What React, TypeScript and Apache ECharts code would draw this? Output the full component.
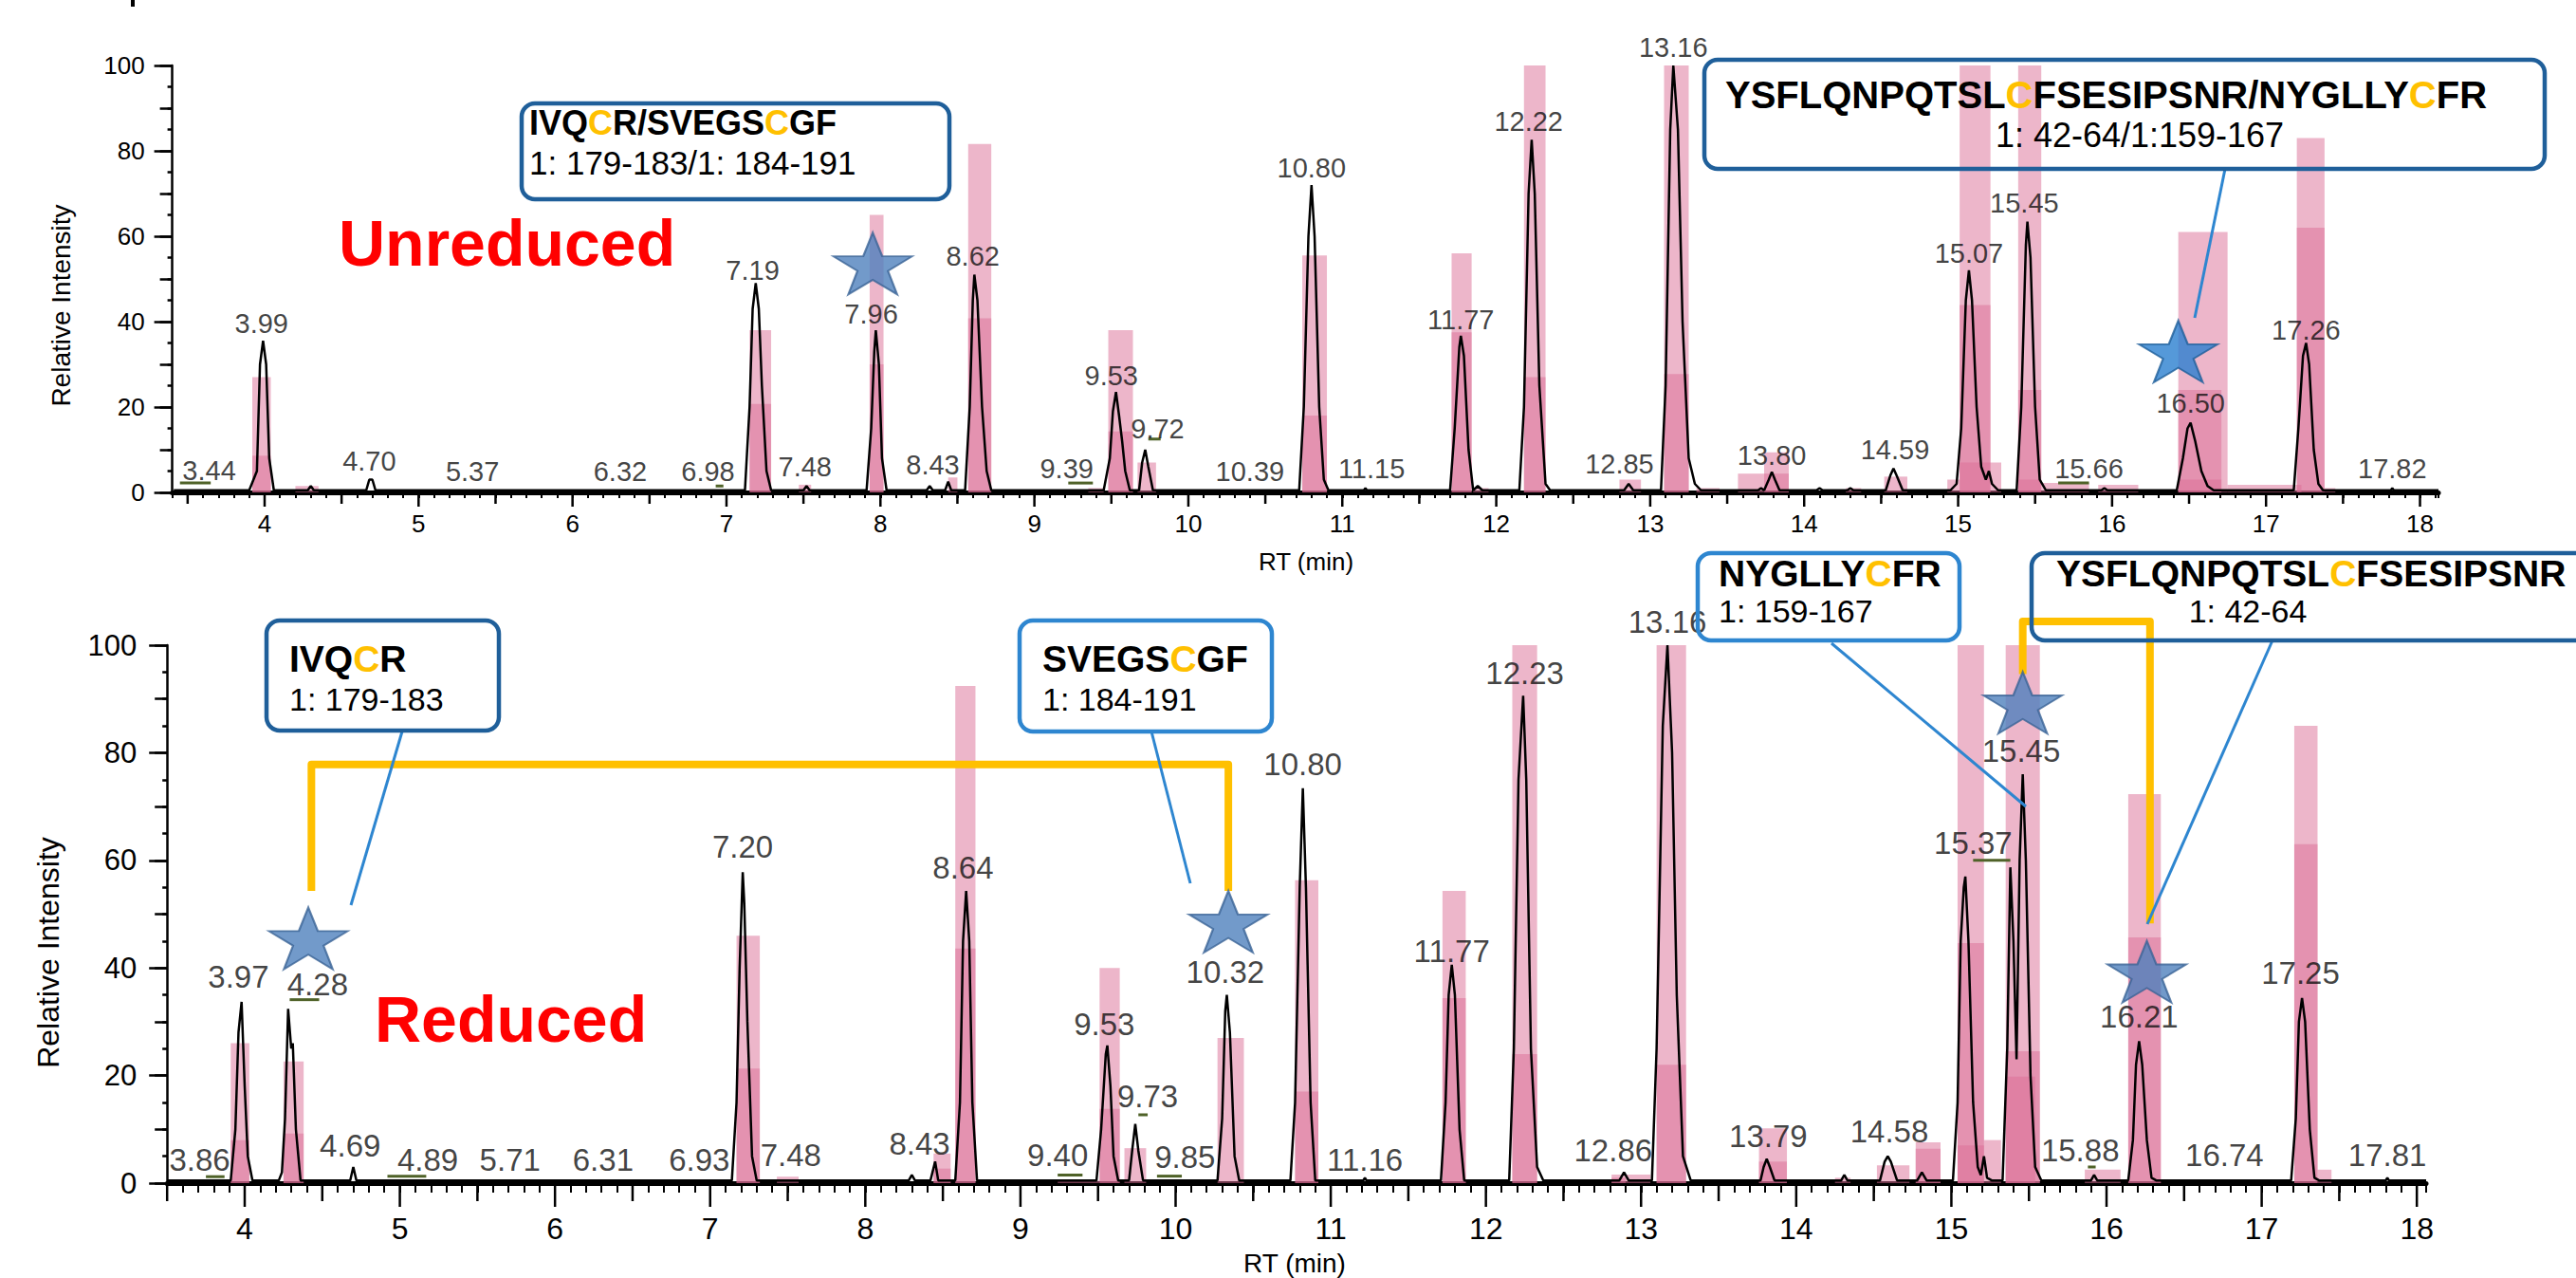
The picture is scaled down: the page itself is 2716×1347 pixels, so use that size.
import React, { useEffect, useRef } from 'react';
import * as echarts from 'echarts';

const W = 2716;
const H = 1347;
const SANS = "'Liberation Sans', Arial, Helvetica, sans-serif";
const PINK = 'rgba(220,110,150,0.5)';
const GREEN = '#4f6228';
const ORANGE = '#ffc000';
const DARKBLUE = '#1f5f9a';
const LIGHTBLUE = '#2e86d0';

// ---------- axis ticks ----------
const intTicks = [4, 5, 6, 7, 8, 9, 10, 11, 12, 13, 14, 15, 16, 17, 18];
const halfTicks = [3.5, 4.5, 5.5, 6.5, 7.5, 8.5, 9.5, 10.5, 11.5, 12.5, 13.5, 14.5, 15.5, 16.5, 17.5];

// ---------- Unreduced (top) ----------
const topTrace = [
  [3.41, 0.5], [3.90, 0.5], [3.95, 5], [3.97, 30], [3.99, 35.5], [4.01, 30], [4.03, 8], [4.06, 0.5],
  [4.28, 0.5], [4.30, 1.5], [4.32, 0.5],
  [4.66, 0.5], [4.68, 3], [4.70, 3], [4.72, 0.5],
  [7.12, 0.5], [7.15, 20], [7.17, 43], [7.19, 49], [7.21, 43], [7.23, 25], [7.26, 5], [7.29, 0.5],
  [7.50, 0.5], [7.52, 1.5], [7.54, 0.5],
  [7.91, 0.5], [7.94, 15], [7.96, 33], [7.97, 38], [7.99, 30], [8.01, 8], [8.04, 0.5],
  [8.30, 0.5], [8.32, 1.5], [8.34, 0.5],
  [8.42, 0.5], [8.44, 2.5], [8.46, 0.5],
  [8.55, 0.5], [8.58, 20], [8.60, 45], [8.61, 51], [8.63, 45], [8.66, 20], [8.69, 5], [8.72, 0.5],
  [9.45, 0.5], [9.49, 8], [9.51, 19], [9.53, 23.5], [9.55, 18], [9.57, 12], [9.59, 5], [9.62, 0.5],
  [9.68, 0.5], [9.70, 7], [9.72, 10], [9.74, 6], [9.77, 0.5],
  [10.72, 0.5], [10.75, 20], [10.78, 60], [10.80, 72], [10.82, 60], [10.85, 20], [10.88, 3], [10.91, 0.5],
  [11.14, 0.5], [11.15, 1], [11.16, 0.5],
  [11.70, 0.5], [11.73, 15], [11.76, 34], [11.77, 36.7], [11.79, 32], [11.82, 10], [11.85, 0.5], [11.88, 1.5], [11.91, 0.5],
  [12.15, 0.5], [12.18, 20], [12.21, 70], [12.23, 82.6], [12.25, 70], [12.28, 25], [12.32, 2], [12.35, 0.5],
  [12.83, 0.5], [12.86, 2], [12.89, 0.5],
  [13.07, 0.5], [13.10, 25], [13.13, 85], [13.15, 100], [13.18, 85], [13.21, 40], [13.25, 8], [13.29, 2], [13.33, 0.5],
  [13.70, 0.5], [13.72, 1], [13.74, 0.5], [13.77, 3], [13.79, 4.8], [13.81, 3], [13.84, 0.5],
  [14.08, 0.5], [14.10, 1], [14.12, 0.5], [14.28, 0.5], [14.30, 1], [14.32, 0.5],
  [14.53, 0.5], [14.56, 4], [14.58, 5.6], [14.60, 4], [14.64, 0.5],
  [14.95, 0.5], [14.99, 2], [15.02, 15], [15.05, 45], [15.07, 52], [15.09, 45], [15.12, 20], [15.15, 6], [15.18, 3], [15.20, 5], [15.22, 2], [15.26, 0.5],
  [15.38, 0.5], [15.41, 20], [15.44, 58], [15.45, 63.4], [15.47, 55], [15.50, 20], [15.53, 3], [15.57, 0.5],
  [15.93, 0.5], [15.95, 1], [15.97, 0.5],
  [16.42, 0.5], [16.46, 8], [16.49, 15], [16.51, 16.3], [16.54, 12], [16.58, 5], [16.62, 1.5], [16.66, 0.5],
  [17.18, 0.5], [17.21, 15], [17.24, 32], [17.26, 35], [17.28, 30], [17.31, 10], [17.34, 2], [17.37, 0.5],
  [17.81, 0.5], [17.82, 1], [17.83, 0.5], [18.12, 0.5],
];

// [start RT, end RT, intensity]
const topBarsA = [
  [3.92, 4.04, 27], [4.20, 4.35, 1.5], [7.15, 7.29, 38], [7.47, 7.55, 1.8], [7.93, 8.02, 65],
  [8.44, 8.50, 3.5], [8.57, 8.72, 81.6], [9.35, 9.45, 1], [9.48, 9.64, 38], [9.67, 9.79, 7],
  [10.74, 10.90, 55.5], [11.71, 11.84, 56], [11.85, 11.95, 1], [12.18, 12.32, 100], [12.80, 12.94, 3],
  [13.09, 13.25, 100], [13.30, 13.45, 1], [13.57, 13.74, 4.4], [13.74, 13.90, 9.4], [14.27, 14.37, 1],
  [14.52, 14.67, 3.7], [14.93, 15.01, 3], [15.01, 15.21, 100], [15.21, 15.28, 7], [15.39, 15.54, 100],
  [15.54, 15.85, 2.2], [15.91, 16.17, 1.8], [16.43, 16.75, 61], [16.75, 17.23, 1.8], [17.20, 17.38, 83],
  [17.38, 17.45, 1],
];
const topBarsB = [
  [3.92, 4.04, 8.6], [7.15, 7.29, 20.7], [7.93, 8.02, 30], [8.57, 8.72, 40.8], [9.48, 9.64, 14.3],
  [10.74, 10.90, 18], [11.71, 11.84, 37.5], [12.18, 12.32, 27], [13.09, 13.25, 27.7], [13.74, 13.90, 4.4],
  [15.01, 15.21, 43.9], [15.39, 15.54, 24], [16.43, 16.71, 24], [17.20, 17.38, 62],
];
const topBarsC = [[15.01, 15.21, 7], [16.43, 16.71, 3], [15.39, 15.54, 3]];

// [label RT, label intensity, text]
const topPeakLabels = [
  [3.64, 5.2, '3.44'], [3.98, 39.6, '3.99'], [4.68, 7.3, '4.70'], [5.35, 4.8, '5.37'], [6.31, 4.8, '6.32'],
  [6.88, 4.8, '6.98'], [7.17, 52, '7.19'], [7.51, 6, '7.48'], [7.94, 41.8, '7.96'], [8.34, 6.4, '8.43'],
  [8.60, 55.4, '8.62'], [9.21, 5.6, '9.39'], [9.50, 27.3, '9.53'], [9.80, 15, '9.72'], [10.40, 4.8, '10.39'],
  [10.80, 76, '10.80'], [11.19, 5.6, '11.15'], [11.77, 40.5, '11.77'], [12.21, 86.9, '12.22'], [12.80, 6.7, '12.85'],
  [13.15, 104.3, '13.16'], [13.79, 8.6, '13.80'], [14.59, 10, '14.59'], [15.07, 56, '15.07'], [15.43, 67.8, '15.45'],
  [15.85, 5.6, '15.66'], [16.51, 20.9, '16.50'], [17.26, 38, '17.26'], [17.82, 5.6, '17.82'],
];
// [start RT, end RT, intensity]
const topGreenMarks = [[3.45, 3.65, 2.2], [9.22, 9.38, 2.2], [9.74, 9.82, 12.5], [15.65, 15.85, 2.2], [6.93, 6.98, 1.5]];
// [RT, intensity, bright]
const topStars = [[7.95, 53.6, 0], [16.43, 33, 1]];

// ---------- Reduced (bottom) ----------
const botTrace = [
  [3.50, 0.5], [3.91, 0.5], [3.94, 10], [3.96, 28], [3.98, 33.7], [4.00, 18], [4.02, 5], [4.05, 0.5],
  [4.22, 0.5], [4.24, 2], [4.26, 12], [4.28, 32.4], [4.30, 25], [4.31, 26], [4.33, 10], [4.36, 0.5],
  [4.68, 0.5], [4.70, 3], [4.72, 0.5],
  [7.14, 0.5], [7.17, 15], [7.19, 40], [7.21, 57.8], [7.22, 52], [7.24, 30], [7.27, 5], [7.30, 0.5],
  [8.28, 0.5], [8.30, 1.5], [8.32, 0.5],
  [8.42, 0.5], [8.45, 4], [8.47, 0.5],
  [8.58, 0.5], [8.61, 15], [8.63, 45], [8.65, 54.3], [8.67, 45], [8.69, 15], [8.72, 0.5],
  [9.49, 0.5], [9.52, 10], [9.55, 24], [9.56, 25.6], [9.58, 18], [9.60, 5], [9.63, 0.5],
  [9.70, 0.5], [9.72, 6], [9.74, 11], [9.76, 6], [9.79, 0.5],
  [10.27, 0.5], [10.30, 12], [10.32, 32], [10.33, 35], [10.35, 28], [10.38, 5], [10.41, 0.5],
  [10.74, 0.5], [10.77, 15], [10.80, 55], [10.82, 73.4], [10.84, 55], [10.87, 15], [10.90, 0.5],
  [11.21, 0.5], [11.22, 1], [11.23, 0.5],
  [11.71, 0.5], [11.74, 15], [11.76, 35], [11.78, 40.6], [11.80, 35], [11.83, 10], [11.86, 0.5],
  [12.15, 0.5], [12.18, 25], [12.21, 75], [12.24, 90.6], [12.26, 75], [12.29, 25], [12.33, 3], [12.37, 0.5],
  [12.86, 0.5], [12.89, 2], [12.92, 0.5],
  [13.07, 0.5], [13.10, 25], [13.14, 85], [13.17, 100], [13.20, 80], [13.23, 35], [13.27, 5], [13.32, 0.5],
  [13.77, 0.5], [13.79, 3], [13.81, 4.5], [13.83, 3], [13.86, 0.5],
  [14.29, 0.5], [14.31, 1.5], [14.33, 0.5],
  [14.54, 0.5], [14.57, 4], [14.59, 5], [14.61, 4], [14.65, 0.5],
  [14.78, 0.5], [14.81, 2], [14.84, 0.5],
  [15.01, 0.5], [15.04, 15], [15.06, 45], [15.08, 55], [15.09, 57], [15.11, 45], [15.14, 15], [15.17, 3], [15.19, 1.5], [15.21, 5], [15.23, 1], [15.26, 0.5],
  [15.33, 0.5], [15.36, 25], [15.38, 58.7], [15.40, 45], [15.42, 23], [15.44, 60], [15.46, 76], [15.48, 60], [15.51, 20], [15.54, 3], [15.58, 0.5],
  [15.90, 0.5], [15.92, 1.5], [15.94, 0.5],
  [16.14, 0.5], [16.17, 8], [16.19, 22], [16.21, 26.4], [16.23, 22], [16.26, 8], [16.29, 1], [16.32, 0.5],
  [17.19, 0.5], [17.22, 12], [17.24, 30], [17.26, 34.4], [17.28, 30], [17.31, 10], [17.34, 1], [17.37, 0.5],
  [17.80, 0.5], [17.81, 1], [17.82, 0.5], [18.06, 0.5],
];
const botBarsA = [
  [3.91, 4.03, 26], [4.25, 4.38, 22.6], [7.17, 7.32, 46], [7.43, 7.57, 1.2], [8.44, 8.55, 5.5],
  [8.58, 8.71, 92.4], [9.24, 9.51, 0.5], [9.51, 9.64, 40], [9.67, 9.81, 6.5], [10.27, 10.44, 27],
  [10.77, 10.92, 56.3], [11.72, 11.87, 54.3], [12.17, 12.33, 100], [12.81, 13.06, 1.6], [13.10, 13.29, 100],
  [13.76, 13.94, 10.2], [14.25, 14.35, 1], [14.52, 14.73, 3.3], [14.77, 14.93, 7.6], [15.04, 15.21, 100],
  [15.21, 15.32, 8], [15.35, 15.57, 100], [15.86, 16.09, 2.5], [16.14, 16.35, 72.3], [17.21, 17.36, 85],
  [17.36, 17.45, 2.5],
];
const botBarsB = [
  [3.91, 4.03, 8], [4.25, 4.38, 9.2], [7.17, 7.32, 21.3], [8.44, 8.55, 2.7], [8.58, 8.71, 43.6],
  [9.51, 9.64, 13.8], [10.77, 10.92, 17], [11.72, 11.87, 34.4], [12.17, 12.33, 24], [12.81, 12.90, 1],
  [13.10, 13.29, 22], [13.76, 13.94, 4], [14.77, 14.93, 6.4], [15.04, 15.21, 44.6], [15.35, 15.57, 24.5],
  [16.14, 16.35, 45.7], [17.21, 17.36, 63],
];
const botBarsC = [[15.35, 15.54, 19.8], [15.04, 15.21, 7]];

const botPeakLabels = [
  [3.71, 4.3, '3.86'], [3.96, 38.4, '3.97'], [4.47, 37, '4.28'], [4.68, 6.9, '4.69'], [5.18, 4.3, '4.89'],
  [5.71, 4.3, '5.71'], [6.31, 4.3, '6.31'], [6.93, 4.3, '6.93'], [7.21, 62.6, '7.20'], [7.52, 5.2, '7.48'],
  [8.35, 7.4, '8.43'], [8.63, 58.7, '8.64'], [9.24, 5.2, '9.40'], [9.54, 29.5, '9.53'], [9.82, 16.2, '9.73'],
  [10.06, 4.8, '9.85'], [10.32, 39.3, '10.32'], [10.82, 77.8, '10.80'], [11.22, 4.3, '11.16'], [11.78, 43.2, '11.77'],
  [12.25, 94.8, '12.23'], [12.82, 6.1, '12.86'], [13.17, 104.3, '13.16'], [13.82, 8.7, '13.79'], [14.60, 9.6, '14.58'],
  [15.14, 63.2, '15.37'], [15.45, 80.4, '15.45'], [15.83, 6.1, '15.88'], [16.21, 30.9, '16.21'], [16.76, 5.2, '16.74'],
  [17.25, 39, '17.25'], [17.81, 5.2, '17.81'],
];
const botGreenMarks = [
  [3.75, 3.87, 1.2], [4.29, 4.48, 34.1], [4.92, 5.17, 1.3], [9.24, 9.40, 1.5], [9.76, 9.82, 12.7],
  [9.88, 10.04, 1.3], [15.14, 15.38, 60], [15.88, 15.93, 3],
];
const botStars = [[4.41, 45.5, 0], [10.34, 48.6, 0], [15.46, 89.3, 0], [16.26, 39.3, 0]];
const bracketLeft = [[4.43, 54.3], [4.43, 77.8], [10.34, 77.8], [10.34, 54.3]];
const bracketRight = [[15.46, 94.6], [15.46, 104.4], [16.28, 104.4], [16.28, 48.3]];

// ---------- annotations (pixel boxes) ----------
const boxes = [
  [550, 109, 451, 101, DARKBLUE, 'IVQCR/SVEGSCGF', 558, 129, '1: 179-183/1: 184-191', 558, 171, 'left', 36, 35],
  [1797, 63, 886, 115, DARKBLUE, 'YSFLQNPQTSLCFSESIPSNR/NYGLLYCFR', 1819, 99.5, '1: 42-64/1:159-167', 2256, 142.5, 'center', 40, 36],
  [281, 654, 245, 116, DARKBLUE, 'IVQCR', 305, 694, '1: 179-183', 305, 737, 'left', 39, 34],
  [1075, 654, 266, 117, LIGHTBLUE, 'SVEGSCGF', 1099, 694, '1: 184-191', 1099, 737, 'left', 39, 34],
  [1790, 583, 276, 92, LIGHTBLUE, 'NYGLLYCFR', 1812, 604, '1: 159-167', 1812, 644, 'left', 39, 34],
  [2142, 583, 700, 92, DARKBLUE, 'YSFLQNPQTSLCFSESIPSNR', 2168, 604, '1: 42-64', 2370, 644, 'center', 39, 34],
];
const callouts = [
  [2346, 178, 2314, 335],
  [424, 771, 370, 954],
  [1214, 771, 1255, 931],
  [1931, 678, 2136, 850],
  [2396, 675, 2264, 974],
];

const STAR = 'path://M50,0 L61.8,35.1 L98.9,35.1 L68.9,56.8 L80.3,91.9 L50,70.2 L19.7,91.9 L31.1,56.8 L1.1,35.1 L38.2,35.1 Z';

function seqRich(seq: string) {
  const parts = seq.split('C');
  let out = '';
  parts.forEach((p, i) => {
    if (p) out += `{b|${p}}`;
    if (i < parts.length - 1) out += '{c|C}';
  });
  return out;
}

function rectRender(params: any, api: any) {
  const p0 = api.coord([api.value(0), api.value(2)]);
  const p1 = api.coord([api.value(1), 0]);
  return {
    type: 'rect',
    shape: { x: p0[0], y: p0[1], width: p1[0] - p0[0], height: p1[1] - p0[1] },
    style: { fill: PINK },
  };
}
function hLineRender(params: any, api: any) {
  const p0 = api.coord([api.value(0), api.value(2)]);
  const p1 = api.coord([api.value(1), api.value(2)]);
  return {
    type: 'line',
    shape: { x1: p0[0], y1: p0[1], x2: p1[0], y2: p1[1] },
    style: { stroke: GREEN, lineWidth: 3 },
  };
}
function tickRender(len: number) {
  return (params: any, api: any) => {
    const p = api.coord([api.value(0), 0]);
    return {
      type: 'line',
      shape: { x1: p[0], y1: p[1], x2: p[0], y2: p[1] + len },
      style: { stroke: '#000', lineWidth: 2.5 },
    };
  };
}

function panelSeries(xi: number, yi: number, cfg: any) {
  const bars = [cfg.barsA, cfg.barsB, cfg.barsC].map((d: any) => ({
    type: 'custom', xAxisIndex: xi, yAxisIndex: yi, renderItem: rectRender, data: d,
    encode: { x: [0, 1], y: 2 }, z: 1, silent: true,
  }));
  return [
    ...bars,
    {
      type: 'line', xAxisIndex: xi, yAxisIndex: yi, data: cfg.trace, showSymbol: false, symbol: 'none',
      lineStyle: { color: '#000', width: 2.5 }, z: 3, silent: true,
    },
    {
      type: 'custom', xAxisIndex: xi, yAxisIndex: yi, renderItem: hLineRender, data: cfg.green,
      encode: { x: [0, 1], y: 2 }, z: 4, silent: true,
    },
    {
      type: 'custom', xAxisIndex: xi, yAxisIndex: yi, renderItem: tickRender(cfg.halfLen), clip: false,
      data: halfTicks.filter((v) => v >= cfg.min).map((v) => [v, 0]), encode: { x: 0, y: 1 }, z: 6, silent: true,
    },
    {
      type: 'custom', xAxisIndex: xi, yAxisIndex: yi, renderItem: tickRender(cfg.intLen), clip: false,
      data: intTicks.map((v) => [v, 0]), encode: { x: 0, y: 1 }, z: 6, silent: true,
    },
    {
      type: 'scatter', xAxisIndex: xi, yAxisIndex: yi, clip: false, symbolSize: 1,
      itemStyle: { color: 'rgba(0,0,0,0)' }, z: 5, silent: true,
      data: cfg.labels,
      label: {
        show: true, position: 'inside', formatter: (p: any) => p.value[2],
        fontSize: cfg.labelSize, fontFamily: SANS, color: '#111',
      },
    },
    {
      type: 'scatter', xAxisIndex: xi, yAxisIndex: yi, clip: false, symbol: STAR, symbolSize: [83, 65], z: 8,
      silent: true,
      data: cfg.stars.map((s: any) => ({
        value: [s[0], s[1]],
        itemStyle: s[2]
          ? { color: '#2a7fd0', borderColor: DARKBLUE, borderWidth: 2 }
          : { color: '#4f81bd', borderColor: '#3b6496', borderWidth: 2 },
      })),
    },
  ];
}

function xAxisCfg(gi: number, min: number, max: number, minorLen: number, fontSize: number, margin: number) {
  return {
    gridIndex: gi, type: 'value', min, max, interval: 0.1,
    axisLine: { show: true, onZero: false, lineStyle: { color: '#000', width: 5 } },
    axisTick: { show: true, length: minorLen, lineStyle: { color: '#000', width: 2 } },
    axisLabel: {
      margin, fontSize, fontFamily: SANS, color: '#000',
      formatter: (v: number) => (Math.abs(v - Math.round(v)) < 0.001 ? String(Math.round(v)) : ''),
    },
    splitLine: { show: false },
  };
}
function yAxisCfgs(gi: number, fontSize: number, margin: number) {
  return [
    {
      gridIndex: gi, type: 'value', position: 'left', min: 0, max: 100, interval: 20,
      axisLine: { show: true, onZero: false, lineStyle: { color: '#000', width: 2.5 } },
      axisTick: { show: true, length: 19, lineStyle: { color: '#000', width: 2.5 } },
      minorTick: { show: true, splitNumber: 4, length: 5, lineStyle: { color: '#000', width: 2.5 } },
      axisLabel: { margin, fontSize, fontFamily: SANS, color: '#000' },
      splitLine: { show: false }, minorSplitLine: { show: false },
    },
    {
      gridIndex: gi, type: 'value', position: 'left', offset: 0, min: 0, max: 100, interval: 10,
      axisLine: { show: false, onZero: false }, axisLabel: { show: false },
      axisTick: { show: true, length: 13, lineStyle: { color: '#000', width: 2.5 } },
      splitLine: { show: false },
    },
  ];
}

function buildGraphic() {
  const g: any[] = [];
  g.push({ type: 'rect', shape: { x: 138, y: 0, width: 4, height: 7 }, style: { fill: '#000' } });
  const txt = (x: number, y: number, text: string, size: number, opts: any = {}) => ({
    type: 'text', z: 20, x, y, rotation: opts.rotation || 0,
    style: {
      text, fontSize: size, fontFamily: SANS, fontWeight: opts.weight || 'normal',
      fill: opts.color || '#000', align: opts.align || 'center', verticalAlign: 'middle',
      textAlign: opts.align || 'center', textVerticalAlign: 'middle',
    },
  });
  g.push(txt(357, 256, 'Unreduced', 68, { weight: 'bold', color: '#ff0000', align: 'left' }));
  g.push(txt(395, 1074, 'Reduced', 68, { weight: 'bold', color: '#ff0000', align: 'left' }));
  g.push(txt(1377, 592, 'RT (min)', 26));
  g.push(txt(1365, 1331, 'RT (min)', 28));
  g.push(txt(64, 322, 'Relative Intensity', 28, { rotation: Math.PI / 2 }));
  g.push(txt(51, 1004, 'Relative Intensity', 32, { rotation: Math.PI / 2 }));

  callouts.forEach((c) => {
    g.push({ type: 'line', z: 19, shape: { x1: c[0], y1: c[1], x2: c[2], y2: c[3] }, style: { stroke: LIGHTBLUE, lineWidth: 3 } });
  });
  boxes.forEach((b: any) => {
    const [x, y, w, h, col, seq, sx, sy, rng, rx, ry, ralign, seqSize, rngSize] = b;
    g.push({
      type: 'rect', z: 20, shape: { x, y, width: w, height: h, r: 14 },
      style: { fill: 'rgba(255,255,255,0)', stroke: col, lineWidth: 4.5 },
    });
    g.push({
      type: 'text', z: 21, x: sx, y: sy,
      style: {
        text: seqRich(seq), align: 'left', verticalAlign: 'middle', textAlign: 'left', textVerticalAlign: 'middle',
        fontSize: seqSize, fontFamily: SANS, fontWeight: 'bold',
        rich: {
          b: { fontSize: seqSize, fontFamily: SANS, fontWeight: 'bold', fill: '#000', color: '#000' },
          c: { fontSize: seqSize, fontFamily: SANS, fontWeight: 'bold', fill: ORANGE, color: ORANGE },
        },
      },
    });
    g.push(txt(rx, ry, rng, rngSize, { align: ralign }));
  });
  return g;
}

export default function App() {
  const ref = useRef<HTMLDivElement>(null);
  useEffect(() => {
    document.body.style.margin = '0';
    document.body.style.overflow = 'hidden';
    if (!ref.current) return;
    const chart = echarts.init(ref.current, undefined, { renderer: 'svg' });
    const option: any = {
      animation: false,
      backgroundColor: '#fff',
      grid: [
        { left: 181.6, top: 69, width: 2389.4, height: 450 },
        { left: 176.2, top: 680, width: 2381.8, height: 567 },
      ],
      xAxis: [
        xAxisCfg(0, 3.4, 18.12, 6, 26, 20),
        xAxisCfg(1, 3.5, 18.06, 10, 32, 32),
      ],
      yAxis: [...yAxisCfgs(0, 26, 29), ...yAxisCfgs(1, 31, 32)],
      series: [
        ...panelSeries(0, 0, {
          barsA: topBarsA, barsB: topBarsB, barsC: topBarsC, trace: topTrace, green: topGreenMarks,
          labels: topPeakLabels, stars: topStars, labelSize: 29, halfLen: 12, intLen: 15, min: 3.4,
        }),
        ...panelSeries(1, 2, {
          barsA: botBarsA, barsB: botBarsB, barsC: botBarsC, trace: botTrace, green: botGreenMarks,
          labels: botPeakLabels, stars: botStars, labelSize: 33, halfLen: 19, intLen: 25, min: 3.5,
        }),
        {
          type: 'line', xAxisIndex: 1, yAxisIndex: 2, data: bracketLeft, clip: false, symbol: 'none',
          lineStyle: { color: ORANGE, width: 8, join: 'round' }, z: 7, silent: true,
        },
        {
          type: 'line', xAxisIndex: 1, yAxisIndex: 2, data: bracketRight, clip: false, symbol: 'none',
          lineStyle: { color: ORANGE, width: 8, join: 'round' }, z: 7, silent: true,
        },
      ],
      graphic: buildGraphic(),
    };
    chart.setOption(option);
    return () => chart.dispose();
  }, []);
  return <div ref={ref} style={{ width: W, height: H }} />;
}
